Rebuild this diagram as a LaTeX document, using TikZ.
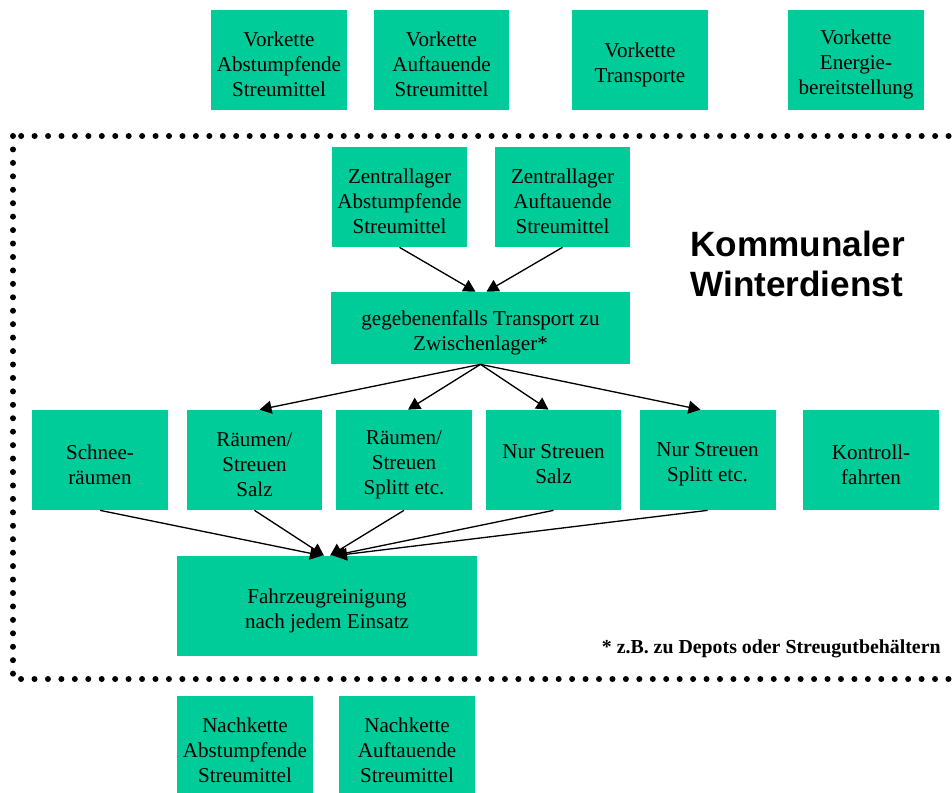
\documentclass[tikz,border=0pt]{standalone}
\usepackage{fontspec}
\setmainfont{Liberation Serif}
\newfontfamily\headfont{Liberation Sans}
\usetikzlibrary{calc,arrows.meta}
\definecolor{boxgreen}{RGB}{0,204,153}
\tikzset{
	chainbox/.style={fill=boxgreen,inner sep=0pt,minimum width=2.72cm,minimum height=2cm},
	boxtext/.style={align=center,yshift=-0.09cm,inner sep=0pt,font=\fontsize{12}{14.2}\selectfont},
	flow/.style={line width=0.75pt,-{Triangle[length=0.24cm,width=0.26cm]}},
	link/.style={line width=0.75pt},
	dotline/.style={line width=0.12cm,line cap=round,dash pattern=on 0pt off 7.65pt}
}

\begin{document}
\begin{tikzpicture}[x=0.02cm,y=-0.02cm]
					\useasboundingbox (0,0) rectangle (952,792);
					\coordinate (ftl) at (13,136);
					\coordinate (fbr) at (966,679);
					\draw[dotline] (ftl) rectangle (fbr);
						\node(vA)[chainbox,label={[boxtext]center:{Vorkette\\Abstumpfende\\Streumittel}}] at (279,60) {};
						\node(vB)[chainbox,label={[boxtext]center:{Vorkette\\Auftauende\\Streumittel}}] at (441.5,60) {};
						\node(vT)[chainbox,label={[boxtext]center:{Vorkette\\Transporte}}] at (640,60) {};
						\node(vE)[chainbox,label={[boxtext]center:{Vorkette\\Energie-\\bereitstellung}}] at (856,60) {};
						\node(zA)[chainbox,label={[boxtext]center:{Zentrallager\\Abstumpfende\\Streumittel}}] at (399.5,197) {};
						\node(zB)[chainbox,label={[boxtext]center:{Zentrallager\\Auftauende\\Streumittel}}] at (562.5,197) {};
						\node(gg)[chainbox,minimum width=5.98cm,minimum height=1.44cm,label={[boxtext]center:{gegebenenfalls Transport zu\\Zwischenlager*}}] at (480.5,328) {};
						\node(sr)[chainbox,label={[boxtext]center:{Schnee-\\räumen}}] at (100,460) {};
						\node(rs)[chainbox,label={[boxtext]center:{Räumen/\\Streuen\\Salz}}] at (254.5,460) {};
						\node(rp)[chainbox,label={[boxtext]center:{Räumen/\\Streuen\\Splitt etc.}}] at (404,460) {};
						\node(ns)[chainbox,label={[boxtext]center:{Nur Streuen\\Salz}}] at (553.5,460) {};
						\node(np)[chainbox,label={[boxtext]center:{Nur Streuen\\Splitt etc.}}] at (707.5,460) {};
						\node(kf)[chainbox,label={[boxtext]center:{Kontroll-\\fahrten}}] at (871,460) {};
						\node(fz)[chainbox,minimum width=6cm,label={[boxtext]center:{Fahrzeugreinigung\\nach jedem Einsatz}}] at (327,606) {};
						\node(nA)[chainbox,label={[boxtext]center:{Nachkette\\Abstumpfende\\Streumittel}}] at (245,746) {};
						\node(nB)[chainbox,label={[boxtext]center:{Nachkette\\Auftauende\\Streumittel}}] at (407,746) {};
						\node(title)[anchor=west,align=left,inner sep=0pt,font=\headfont\bfseries\fontsize{20}{23.2}\selectfont] at (690,264) {Kommunaler\\Winterdienst};
						\node(note)[anchor=base east,inner sep=0pt,font=\bfseries\fontsize{11.3}{13.5}\selectfont] at (941,653) {* z.B. zu Depots oder Streugutbehältern};
						\draw[link] ($(vA.south)+(5,0)$) -- ($(vA.south)+(5,0)$ |- ftl);
						\draw[link] ($(vB.south)+(-5,0)$) -- ($(vB.south)+(-5,0)$ |- ftl);
						\draw[link] ($(vT.south)+(-5,0)$) -- ($(vT.south)+(-5,0)$ |- ftl);
						\draw[link] ($(vE.south)+(-4,0)$) -- ($(vE.south)+(-4,0)$ |- ftl);
						\draw[link] ($(nA.north)+(4,0)$ |- fbr) -- ($(nA.north)+(4,0)$);
						\draw[link] ($(nB.north)+(-4,0)$ |- fbr) -- ($(nB.north)+(-4,0)$);
						\draw[flow] (zA.south) -- ($(gg.north)+(-5,0)$);
						\draw[flow] (zB.south) -- ($(gg.north)+(6,0)$);
						\draw[flow] (gg.south) -- ($(rs.north)+(5,0)$);
						\draw[flow] (gg.south) -- ($(rp.north)+(4,0)$);
						\draw[flow] (gg.south) -- ($(ns.north)+(-5,0)$);
						\draw[flow] (gg.south) -- ($(np.north)+(-7,0)$);
						\draw[flow] (sr.south) -- ($(fz.north)+(-5,0)$);
						\draw[flow] (rs.south) -- ($(fz.north)+(-3,0)$);
						\draw[flow] (rp.south) -- ($(fz.north)+(3,0)$);
						\draw[flow] (ns.south) -- ($(fz.north)+(6,0)$);
						\draw[flow] (np.south) -- ($(fz.north)+(8,0)$);
				\end{tikzpicture}
\end{document}
